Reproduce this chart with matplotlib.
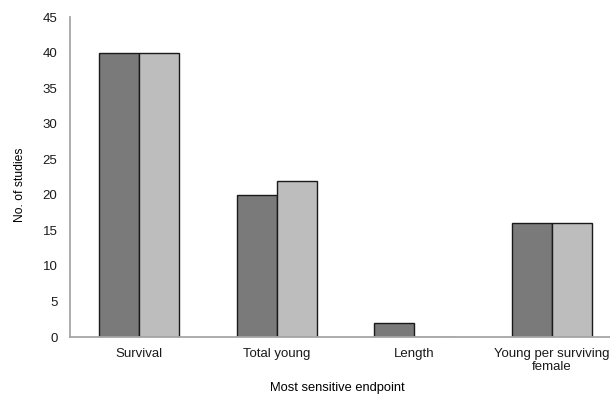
import matplotlib
matplotlib.use("Agg")
import matplotlib.pyplot as plt
import numpy as np

categories = ["Survival", "Total young", "Length", "Young per surviving\nfemale"]
series_a = [40, 20, 2, 16]
series_b = [40, 22, 0, 16]
yticks = [0, 5, 10, 15, 20, 25, 30, 35, 40, 45]

plt.rcParams['font.family'] = ['Liberation Sans', 'DejaVu Sans']

fig = plt.figure(figsize=(6.1, 3.96), dpi=100)
ax = fig.add_axes([70/610, 1-337/396, 551/610, 320/396])

x = np.arange(len(categories))
w = 0.29
ax.bar(x - w/2, series_a, w, color="#7a7a7a", edgecolor="#1a1a1a", linewidth=1.0)
ax.bar(x + w/2, series_b, w, color="#bdbdbd", edgecolor="#1a1a1a", linewidth=1.0)

ax.set_xlim(-0.5, 3.5)
ax.set_ylim(0, 45)
ax.set_yticks(yticks)
ax.set_xticks(x)
ax.set_xticklabels(categories, fontsize=9.5, linespacing=1.05)
ax.tick_params(axis='both', length=0, labelsize=9.5, colors="#1a1a1a")
ax.tick_params(axis='x', pad=8)
ax.tick_params(axis='y', pad=9)
for s in ["top", "right"]:
    ax.spines[s].set_visible(False)
for s in ["left", "bottom"]:
    ax.spines[s].set_color("#a6a6a6")
    ax.spines[s].set_linewidth(1.3)
ax.set_xlabel("Most sensitive endpoint", fontsize=9.3, labelpad=7)
ax.xaxis.label.set_x(0.4855)
ax.set_ylabel("No. of studies", fontsize=8.7)
ax.yaxis.set_label_coords(-0.0795, 0.475)

fig.savefig("out.png", dpi=100)
